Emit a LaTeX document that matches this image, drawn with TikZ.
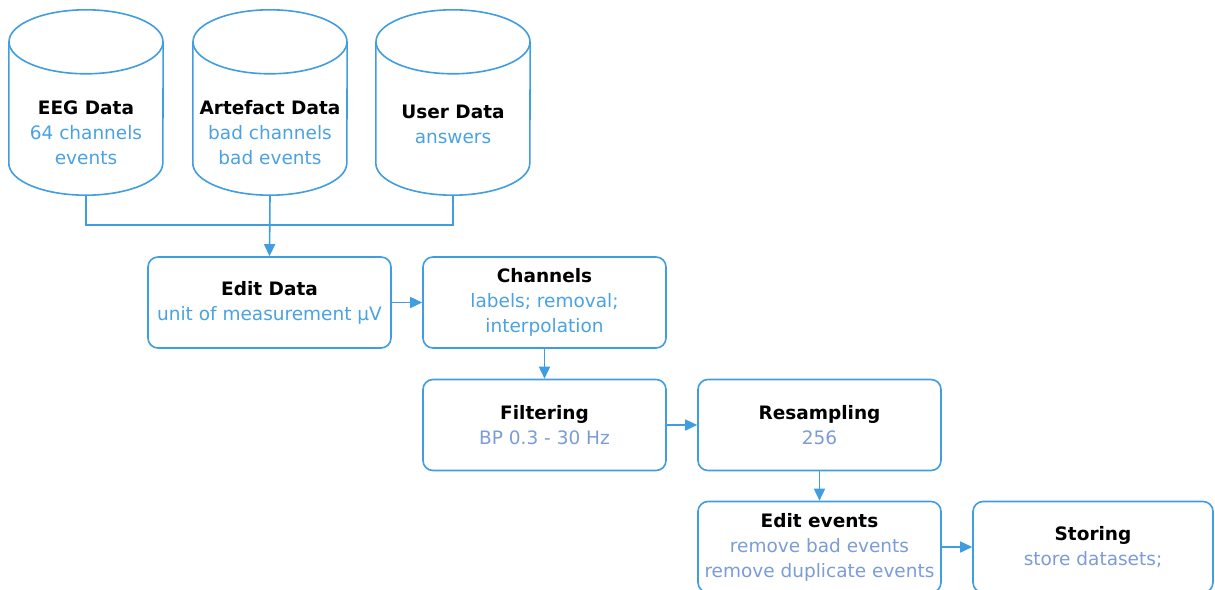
\documentclass[tikz,border=0pt]{standalone}
\usepackage{fontspec}
\setmainfont{DejaVu Sans}
\usetikzlibrary{arrows.meta,calc}
\definecolor{bord}{HTML}{3F9DE0}
\definecolor{txtA}{HTML}{4AA2E2}
\definecolor{txtB}{HTML}{7B9CD6}
\tikzset{
  x=1pt,y=-1pt,
  every node/.style={font=\fontsize{18.5}{25}\selectfont},
  cyl/.style={draw=bord,line width=1.6pt},
  cylbox/.style={minimum width=154pt,minimum height=185pt,inner sep=0pt},
  cyltext/.style={align=center,inner sep=0pt},
  procbox/.style={draw=bord,line width=1.6pt,rounded corners=10pt,minimum width=243pt,minimum height=91pt,inner sep=0pt,align=center},
  conn/.style={draw=bord,line width=1.6pt},
  arr/.style={conn,-{Triangle[length=12pt,width=11pt]}},
}
\newcommand{\ttl}[1]{{\bfseries #1}}
\begin{document}
\begin{tikzpicture}
\useasboundingbox (0,0) rectangle (1215,589);
% cylinders
\foreach \cx/\nm in {86/eeg,270/art,453/usr}{
  \node[cylbox] (\nm) at (\cx,102.5) {};
  \draw[cyl] ($(\nm.north west)+(0,32)$) -- ($(\nm.south west)+(0,-32)$)
     arc[start angle=180,end angle=0,x radius=77,y radius=32] -- ($(\nm.north east)+(0,32)$);
  \draw[cyl] ($(\nm.north)+(0,32)$) ellipse[x radius=77,y radius=32];
}
\node[cyltext] at (eeg.center) [yshift=-30.5pt] {\ttl{EEG Data}\\\color{txtA}64 channels\\\color{txtA}events};
\node[cyltext] at (art.center) [yshift=-30.5pt] {\ttl{Artefact Data}\\\color{txtA}bad channels\\\color{txtA}bad events};
\node[cyltext] at (usr.center) [yshift=-22pt] {\ttl{User Data}\\\color{txtA}answers};
% process boxes
\node[procbox] (edit) at (269.5,302.5) {\ttl{Edit Data}\\\color{txtA}unit of measurement \textmu V};
\node[procbox] (chan) at (544.5,302.5) {\ttl{Channels}\\\color{txtA}labels; removal;\\\color{txtA}interpolation};
\node[procbox] (filt) at (544.5,425) {\ttl{Filtering}\\\color{txtB}BP 0.3 - 30 Hz};
\node[procbox] (resa) at (819.5,425) {\ttl{Resampling}\\\color{txtB}256};
\node[procbox] (evnt) at (819.5,547) {\ttl{Edit events}\\\color{txtB}remove bad events\\\color{txtB}remove duplicate events};
\node[procbox,minimum width=240pt] (stor) at (1093,547) {\ttl{Storing}\\\color{txtB}store datasets;};
% connectors
\coordinate (junc) at (270,225);
\draw[conn] (eeg.south) |- (junc);
\draw[conn] (usr.south) |- (junc);
\draw[arr] (art.south) -- (edit.north);
\draw[arr] (edit.east) -- (chan.west);
\draw[arr] (chan.south) -- (filt.north);
\draw[arr] (filt.east) -- (resa.west);
\draw[arr] (resa.south) -- (evnt.north);
\draw[arr] (evnt.east) -- (stor.west);
\end{tikzpicture}
\end{document}
